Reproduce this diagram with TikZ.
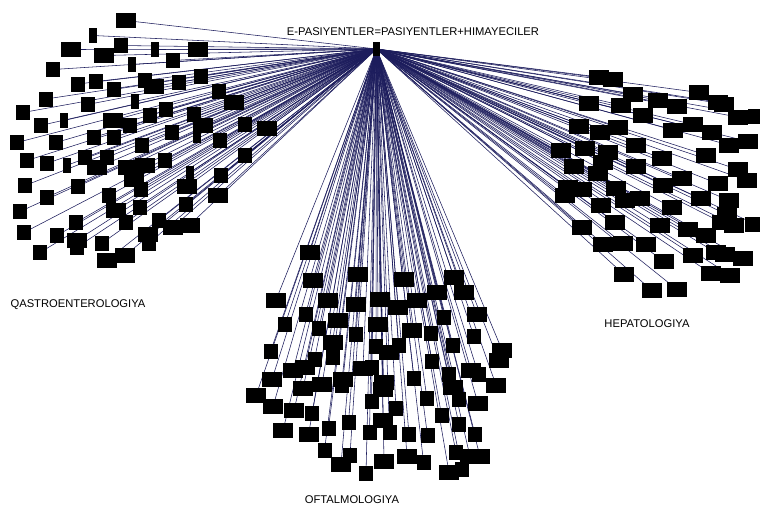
\documentclass[tikz,border=0pt]{standalone}
\usepackage{xcolor}
\usepackage{fontspec}
\setmainfont{Liberation Sans}
\usepackage{tikz}
\usetikzlibrary{backgrounds}

\definecolor{edgenavy}{RGB}{28,28,92}
\tikzset{
  wbox/.style={fill=black, inner sep=0pt, minimum width=20pt, minimum height=15pt},
  mbox/.style={fill=black, inner sep=0pt, minimum width=14pt, minimum height=15pt},
  nbox/.style={fill=black, inner sep=0pt, minimum width=8pt, minimum height=15pt},
  hubbox/.style={fill=black, inner sep=0pt, minimum width=7pt, minimum height=14pt},
  link/.style={draw=edgenavy, line width=0.55pt},
  lbl/.style={inner sep=0pt, anchor=base, font=\fontsize{11.2}{13}\selectfont}
}

\begin{document}
\begin{tikzpicture}[x=1pt,y=-1pt]
\useasboundingbox (0,0) rectangle (760,506);
% Hub
\node[hubbox] (hub) at (376.5,49) {};
\node[lbl] (hubtxt) at (413,35) {E-PASIYENTLER=PASIYENTLER+HIMAYECILER};
% Cluster: QASTROENTEROLOGIYA
\node[wbox] (q1) at (125.5,20.5) {}; \node[nbox] (q2) at (93,35.5) {}; \node[wbox] (q3) at (70.5,49.5) {};
\node[mbox] (q4) at (121,45.5) {}; \node[wbox] (q5) at (104,55.5) {}; \node[nbox] (q6) at (154.5,49.5) {};
\node[wbox] (q7) at (197.5,49.5) {}; \node[nbox] (q8) at (131.5,64.5) {}; \node[mbox] (q9) at (172.5,60.5) {};
\node[mbox] (q10) at (53,69.5) {}; \node[mbox] (q11) at (77.5,84) {}; \node[mbox] (q12) at (96,81.5) {};
\node[mbox] (q13) at (145,80.5) {}; \node[wbox] (q14) at (154,86.5) {}; \node[mbox] (q15) at (178.5,82.5) {};
\node[mbox] (q16) at (200.5,76.5) {}; \node[mbox] (q17) at (113.5,89.5) {}; \node[mbox] (q18) at (46,99) {};
\node[mbox] (q19) at (87.5,104.5) {}; \node[nbox] (q20) at (134.5,101.5) {}; \node[mbox] (q21) at (218.5,91.5) {};
\node[wbox] (q22) at (234,102.5) {}; \node[mbox] (q23) at (23,112.5) {}; \node[mbox] (q24) at (166,109.5) {};
\node[mbox] (q25) at (149.5,115.5) {}; \node[mbox] (q26) at (194,114.5) {}; \node[nbox] (q27) at (64,120.5) {};
\node[wbox] (q28) at (112.5,120.5) {}; \node[mbox] (q29) at (130,125.5) {}; \node[wbox] (q30) at (203,125.5) {};
\node[mbox] (q31) at (40.5,125.5) {}; \node[mbox] (q32) at (245,124.5) {}; \node[wbox] (q33) at (267,128.5) {};
\node[mbox] (q34) at (17,142.5) {}; \node[mbox] (q35) at (56,142.5) {}; \node[mbox] (q36) at (93.5,137.5) {};
\node[mbox] (q37) at (113.5,137.5) {}; \node[mbox] (q38) at (172,132) {}; \node[nbox] (q39) at (196.5,135.5) {};
\node[mbox] (q40) at (220,140.5) {}; \node[mbox] (q41) at (142,145) {}; \node[mbox] (q42) at (27,160.5) {};
\node[mbox] (q43) at (46.5,163.5) {}; \node[nbox] (q44) at (66.5,165.5) {}; \node[mbox] (q45) at (85,157.5) {};
\node[wbox] (q46) at (97,167.5) {}; \node[mbox] (q47) at (106.5,157.5) {}; \node[wbox] (q48) at (127.5,167) {};
\node[wbox] (q49) at (144.5,165) {}; \node[mbox] (q50) at (164.5,160.5) {}; \node[mbox] (q51) at (244.5,155.5) {};
\node[wbox] (q52) at (134,179) {}; \node[nbox] (q53) at (189.5,173) {}; \node[mbox] (q54) at (221,175.5) {};
\node[mbox] (q55) at (25,185.5) {}; \node[mbox] (q56) at (77.5,186.5) {}; \node[wbox] (q57) at (187,186.5) {};
\node[mbox] (q58) at (46.5,197.5) {}; \node[mbox] (q59) at (109,195.5) {}; \node[wbox] (q60) at (218,195.5) {};
\node[mbox] (q61) at (20,211.5) {}; \node[mbox] (q62) at (140,207.5) {}; \node[mbox] (q63) at (186,204.5) {};
\node[wbox] (q64) at (115.5,210.5) {}; \node[mbox] (q65) at (125.5,222.5) {}; \node[mbox] (q66) at (158.5,220.5) {};
\node[wbox] (q67) at (172.5,227.5) {}; \node[wbox] (q68) at (189.5,225) {}; \node[mbox] (q69) at (76,222.5) {};
\node[mbox] (q70) at (24,232.5) {}; \node[mbox] (q71) at (57,235.5) {}; \node[wbox] (q72) at (76.5,240.5) {};
\node[mbox] (q73) at (76.5,247.5) {}; \node[mbox] (q74) at (101.5,243.5) {}; \node[wbox] (q75) at (147.5,234.5) {};
\node[mbox] (q76) at (148.5,243.5) {}; \node[mbox] (q77) at (40,252.5) {}; \node[wbox] (q78) at (106.5,260.5) {};
\node[wbox] (q79) at (125,255.5) {}; \node[mbox] (q80) at (141,189) {};
\node[lbl] (qtxt) at (78,307) {QASTROENTEROLOGIYA};
% Cluster: HEPATOLOGIYA
\node[wbox] (h1) at (598.5,77) {}; \node[wbox] (h2) at (613,79.5) {}; \node[wbox] (h3) at (633,94.5) {};
\node[wbox] (h4) at (588.5,103.5) {}; \node[wbox] (h5) at (620.5,105) {}; \node[wbox] (h6) at (657.5,100) {};
\node[wbox] (h7) at (677,106.5) {}; \node[wbox] (h8) at (699,92.5) {}; \node[wbox] (h9) at (717.5,102) {};
\node[wbox] (h10) at (724,104) {}; \node[wbox] (h11) at (737.5,117) {}; \node[wbox] (h12) at (758,116) {};
\node[wbox] (h13) at (642.5,115) {}; \node[wbox] (h14) at (579,126.5) {}; \node[wbox] (h15) at (600,132) {};
\node[wbox] (h16) at (618,127.5) {}; \node[wbox] (h17) at (673,130) {}; \node[wbox] (h18) at (693,124.5) {};
\node[wbox] (h19) at (712,132.5) {}; \node[wbox] (h20) at (729,145) {}; \node[wbox] (h21) at (748,141.5) {};
\node[wbox] (h22) at (635.5,145) {}; \node[wbox] (h23) at (560.5,150.5) {}; \node[wbox] (h24) at (585,148.5) {};
\node[wbox] (h25) at (608,152.5) {}; \node[wbox] (h26) at (706,155) {}; \node[wbox] (h27) at (662,158.5) {};
\node[wbox] (h28) at (603,162.5) {}; \node[wbox] (h29) at (574,166.5) {}; \node[wbox] (h30) at (635.5,166.5) {};
\node[wbox] (h31) at (598,173.5) {}; \node[wbox] (h32) at (738,169.5) {}; \node[wbox] (h33) at (682,178.5) {};
\node[wbox] (h34) at (663,185) {}; \node[wbox] (h35) at (717.5,183.5) {}; \node[wbox] (h36) at (747,180.5) {};
\node[wbox] (h37) at (568,187.5) {}; \node[wbox] (h38) at (582,189.5) {}; \node[wbox] (h39) at (565,195.5) {};
\node[wbox] (h40) at (616,188.5) {}; \node[wbox] (h41) at (625,200.5) {}; \node[wbox] (h42) at (640,198.5) {};
\node[wbox] (h43) at (700.5,198.5) {}; \node[wbox] (h44) at (729,200.5) {}; \node[wbox] (h45) at (601,205.5) {};
\node[wbox] (h46) at (672,207.5) {}; \node[wbox] (h47) at (727,214.5) {}; \node[wbox] (h48) at (582,227.5) {};
\node[wbox] (h49) at (615,222.5) {}; \node[wbox] (h50) at (660,225.5) {}; \node[wbox] (h51) at (688,229.5) {};
\node[wbox] (h52) at (706,235.5) {}; \node[wbox] (h53) at (722,222.5) {}; \node[wbox] (h54) at (734,225) {};
\node[wbox] (h55) at (755,224) {}; \node[wbox] (h56) at (603,244) {}; \node[wbox] (h57) at (623,243.5) {};
\node[wbox] (h58) at (646,244.5) {}; \node[wbox] (h59) at (693,255) {}; \node[wbox] (h60) at (716,252.5) {};
\node[wbox] (h61) at (725,254.5) {}; \node[wbox] (h62) at (743,258.5) {}; \node[wbox] (h63) at (664,261.5) {};
\node[wbox] (h64) at (624,274.5) {}; \node[wbox] (h65) at (711,273.5) {}; \node[wbox] (h66) at (730,275) {};
\node[wbox] (h67) at (652,290.5) {}; \node[wbox] (h68) at (677,289.5) {};
\node[lbl] (htxt) at (647,327) {HEPATOLOGIYA};
% Cluster: OFTALMOLOGIYA
\node[wbox] (o1) at (309.5,252.5) {}; \node[wbox] (o2) at (313,280.5) {}; \node[wbox] (o3) at (358,274.5) {};
\node[wbox] (o4) at (404,279.5) {}; \node[wbox] (o5) at (454,277.5) {}; \node[wbox] (o6) at (276,300) {};
\node[wbox] (o7) at (328,300) {}; \node[wbox] (o8) at (355.5,304.5) {}; \node[wbox] (o9) at (380,299) {};
\node[wbox] (o10) at (398,307) {}; \node[wbox] (o11) at (417,300.5) {}; \node[wbox] (o12) at (437,292) {};
\node[wbox] (o13) at (464,292) {}; \node[mbox] (o14) at (305.5,314.5) {}; \node[mbox] (o15) at (285,324.5) {};
\node[wbox] (o16) at (338,320.5) {}; \node[wbox] (o17) at (378,324.5) {}; \node[wbox] (o18) at (412,330.5) {};
\node[mbox] (o19) at (444,317.5) {}; \node[wbox] (o20) at (477,314.5) {}; \node[mbox] (o21) at (319,328.5) {};
\node[mbox] (o22) at (356,334.5) {}; \node[mbox] (o23) at (431,333.5) {}; \node[mbox] (o24) at (474,336.5) {};
\node[wbox] (o25) at (332.5,342) {}; \node[mbox] (o26) at (376,346.5) {}; \node[wbox] (o27) at (389,352.5) {};
\node[mbox] (o28) at (398.5,345.5) {}; \node[mbox] (o29) at (453,345.5) {}; \node[mbox] (o30) at (270.5,351.5) {};
\node[mbox] (o31) at (333,357.5) {}; \node[mbox] (o32) at (314.5,359.5) {}; \node[wbox] (o33) at (502,350) {};
\node[wbox] (o34) at (498.5,360) {}; \node[mbox] (o35) at (432,361.5) {}; \node[wbox] (o36) at (293,370.5) {};
\node[wbox] (o37) at (305,367) {}; \node[wbox] (o38) at (363,368) {}; \node[mbox] (o39) at (371.5,367.5) {};
\node[wbox] (o40) at (471,370) {}; \node[mbox] (o41) at (478.5,374.5) {}; \node[wbox] (o42) at (272,379.5) {};
\node[wbox] (o43) at (343,379.5) {}; \node[mbox] (o44) at (414,378.5) {}; \node[mbox] (o45) at (448.5,374.5) {};
\node[wbox] (o46) at (303,388.5) {}; \node[wbox] (o47) at (322,384.5) {}; \node[mbox] (o48) at (341.5,385.5) {};
\node[wbox] (o49) at (383.5,382) {}; \node[wbox] (o50) at (383,389) {}; \node[wbox] (o51) at (496,385) {};
\node[wbox] (o52) at (256,395.5) {}; \node[wbox] (o53) at (453,387.5) {}; \node[mbox] (o54) at (371.5,401.5) {};
\node[mbox] (o55) at (427,398.5) {}; \node[mbox] (o56) at (396,408.5) {}; \node[mbox] (o57) at (459,399.5) {};
\node[wbox] (o58) at (478,403.5) {}; \node[wbox] (o59) at (273,406.5) {}; \node[wbox] (o60) at (294,410.5) {};
\node[mbox] (o61) at (312,413.5) {}; \node[mbox] (o62) at (348.5,422.5) {}; \node[wbox] (o63) at (383,420.5) {};
\node[mbox] (o64) at (389.5,432.5) {}; \node[mbox] (o65) at (369.5,432.5) {}; \node[mbox] (o66) at (441.5,415) {};
\node[mbox] (o67) at (459,424.5) {}; \node[mbox] (o68) at (475,434.5) {}; \node[wbox] (o69) at (283,430.5) {};
\node[wbox] (o70) at (308.5,434.5) {}; \node[mbox] (o71) at (328.5,428) {}; \node[mbox] (o72) at (409,434.5) {};
\node[mbox] (o73) at (427.5,435.5) {}; \node[mbox] (o74) at (324.5,450) {}; \node[mbox] (o75) at (350,455) {};
\node[wbox] (o76) at (341,464.5) {}; \node[wbox] (o77) at (384,461.5) {}; \node[wbox] (o78) at (407,456) {};
\node[mbox] (o79) at (423.5,462) {}; \node[mbox] (o80) at (456,452.5) {}; \node[wbox] (o81) at (470,456.5) {};
\node[wbox] (o82) at (480,456.5) {}; \node[wbox] (o83) at (449,472.5) {}; \node[mbox] (o84) at (462,469.5) {};
\node[mbox] (o85) at (366,473.5) {};
\node[lbl] (otxt) at (352,503.5) {OFTALMOLOGIYA};
% Links from the hub
\begin{scope}[on background layer]
\foreach \i in {1,...,80} \draw[link] (hub.center) -- (q\i.center);
\foreach \i in {1,...,68} \draw[link] (hub.center) -- (h\i.center);
\foreach \i in {1,...,85} \draw[link] (hub.center) -- (o\i.center);
\end{scope}
\end{tikzpicture}
\end{document}
